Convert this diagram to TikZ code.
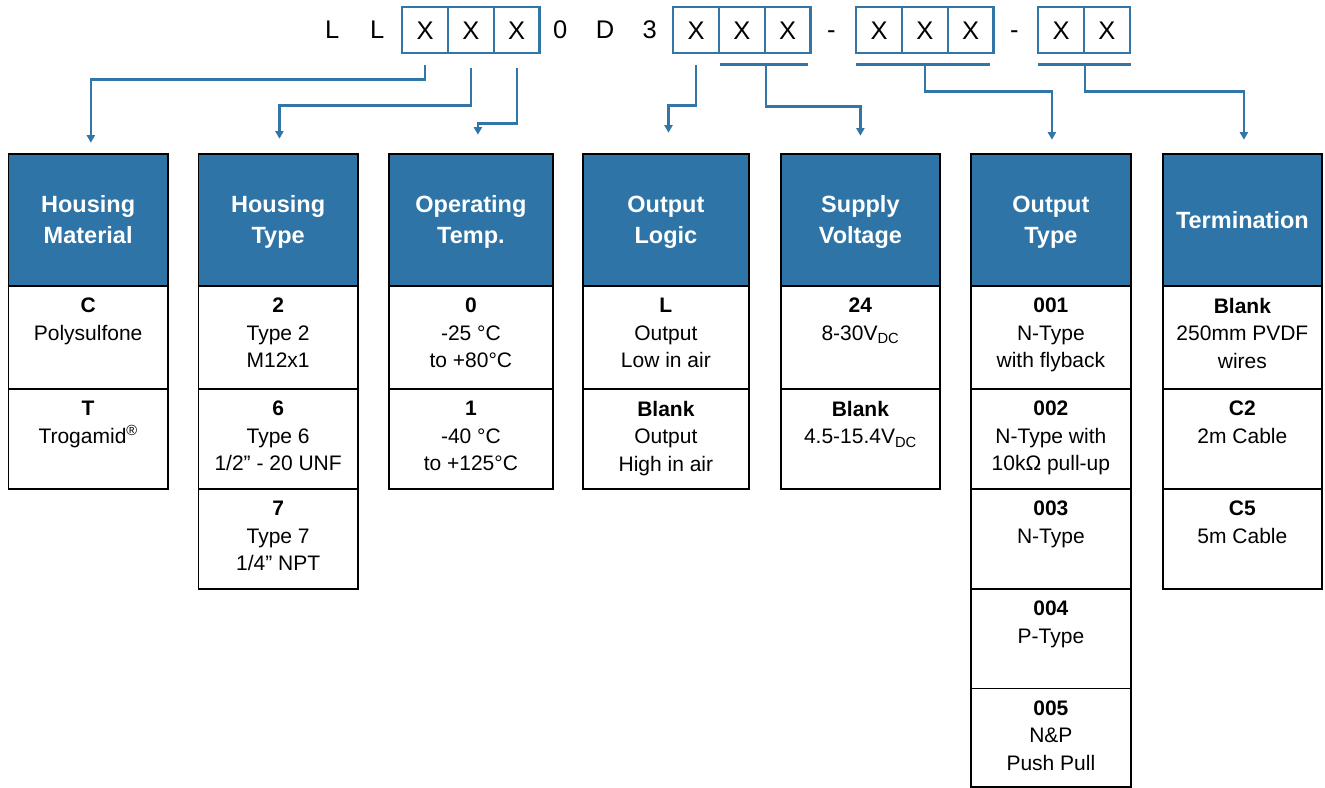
\documentclass[tikz,border=0pt]{standalone}
\usepackage{fontspec}
\setmainfont{Liberation Sans}
\usetikzlibrary{arrows.meta}
\definecolor{hblue}{RGB}{46,116,166}
\definecolor{lblue}{RGB}{50,118,168}
\tikzset{
  hdr/.style={draw=black, line width=1.8pt, fill=hblue, text=white,
    font=\bfseries\fontsize{23.5}{31}\selectfont, align=center, inner sep=0pt,
    anchor=north west, minimum height=132.3pt, text depth=0pt},
  cellbox/.style={draw=black, line width=1.8pt, fill=white, inner sep=0pt, anchor=north west},
  celltxt/.style={font=\fontsize{21}{27.5}\selectfont, align=center, inner sep=0pt,
    anchor=north, execute at begin node={\rule{0pt}{16pt}}},
  codebox/.style={draw=lblue, line width=2.4pt, minimum width=45.8pt, minimum height=46pt,
    inner sep=0pt, anchor=north west, font=\fontsize{25.5}{30}\selectfont,
    text height=18.3pt, text depth=0pt},
  codech/.style={font=\fontsize{25.5}{30}\selectfont, inner sep=0pt,
    text height=18.3pt, text depth=0pt},
  conn/.style={draw=lblue, line width=2.2pt, -{Triangle[width=8pt,length=7.5pt]}},
  bracketbar/.style={draw=lblue, line width=2.4pt},
}
\begin{document}
\begin{tikzpicture}[x=1pt,y=-1pt]
\useasboundingbox (0,0) rectangle (1325,787);

% ---------- code row ----------
\node[codech] (l1) at (332.3,29) {L};
\node[codech] (l2) at (377.2,29) {L};
\node[codebox] (x1) at (401,6) {X};
\node[codebox] (x2) at (446.8,6) {X};
\node[codebox] (x3) at (492.6,6) {X};
\node[codech] (d0) at (560.3,29) {0};
\node[codech] (dD) at (605.2,29) {D};
\node[codech] (d3) at (649.7,29) {3};
\node[codebox] (y1) at (672,6) {X};
\node[codebox] (y2) at (717.8,6) {X};
\node[codebox] (y3) at (763.6,6) {X};
\node[codech] (m1) at (831.4,29) {-};
\node[codebox] (z1) at (855,6) {X};
\node[codebox] (z2) at (900.8,6) {X};
\node[codebox] (z3) at (946.6,6) {X};
\node[codech] (m2) at (1014.3,29) {-};
\node[codebox] (w1) at (1037,6) {X};
\node[codebox] (w2) at (1082.8,6) {X};

% ---------- headers ----------
\node[hdr, minimum width=159.5pt] (h1) at (7.5,152.7) {Housing\\Material};
\node[hdr, minimum width=159.5pt] (h2) at (197.5,152.7) {Housing\\Type};
\node[hdr, minimum width=164pt] (h3) at (388,152.7) {Operating\\Temp.};
\node[hdr, minimum width=166pt] (h4) at (582,152.7) {Output\\Logic};
\node[hdr, minimum width=159pt] (h5) at (780,152.7) {Supply\\Voltage};
\node[hdr, minimum width=160pt] (h6) at (970,152.7) {Output\\Type};
\node[hdr, minimum width=159pt] (h7) at (1162,152.7) {Termination};

% ---------- column 1 ----------
\node[cellbox, minimum width=159.5pt, minimum height=103pt] (c1a) at (7.5,285) {};
\node[celltxt] (t1a) at ([yshift=-13pt]c1a.north) {\textbf{C}\\Polysulfone};
\node[cellbox, minimum width=159.5pt, minimum height=100pt] (c1b) at (7.5,388) {};
\node[celltxt] (t1b) at ([yshift=-13pt]c1b.north) {\textbf{T}\\Trogamid\textsuperscript{®}};

% ---------- column 2 ----------
\node[cellbox, minimum width=159.5pt, minimum height=103pt] (c2a) at (197.5,285) {};
\node[celltxt] (t2a) at ([yshift=-13pt]c2a.north) {\textbf{2}\\Type 2\\M12x1};
\node[cellbox, minimum width=159.5pt, minimum height=100pt] (c2b) at (197.5,388) {};
\node[celltxt] (t2b) at ([yshift=-13pt]c2b.north) {\textbf{6}\\Type 6\\1/2” - 20 UNF};
\node[cellbox, minimum width=159.5pt, minimum height=100pt] (c2c) at (197.5,488) {};
\node[celltxt] (t2c) at ([yshift=-13pt]c2c.north) {\textbf{7}\\Type 7\\1/4” NPT};

% ---------- column 3 ----------
\node[cellbox, minimum width=164pt, minimum height=103pt] (c3a) at (388,285) {};
\node[celltxt] (t3a) at ([yshift=-13pt]c3a.north) {\textbf{0}\\-25 °C\\to +80°C};
\node[cellbox, minimum width=164pt, minimum height=100pt] (c3b) at (388,388) {};
\node[celltxt] (t3b) at ([yshift=-13pt]c3b.north) {\textbf{1}\\-40 °C\\to +125°C};

% ---------- column 4 ----------
\node[cellbox, minimum width=166pt, minimum height=103pt] (c4a) at (582,285) {};
\node[celltxt] (t4a) at ([yshift=-13pt]c4a.north) {\textbf{L}\\Output\\Low in air};
\node[cellbox, minimum width=166pt, minimum height=100pt] (c4b) at (582,388) {};
\node[celltxt] (t4b) at ([yshift=-13pt]c4b.north) {\textbf{Blank}\\Output\\High in air};

% ---------- column 5 ----------
\node[cellbox, minimum width=159pt, minimum height=103pt] (c5a) at (780,285) {};
\node[celltxt] (t5a) at ([yshift=-13pt]c5a.north) {\textbf{24}\\8-30V\textsubscript{DC}};
\node[cellbox, minimum width=159pt, minimum height=100pt] (c5b) at (780,388) {};
\node[celltxt] (t5b) at ([yshift=-13pt]c5b.north) {\textbf{Blank}\\4.5-15.4V\textsubscript{DC}};

% ---------- column 6 ----------
\node[cellbox, minimum width=160pt, minimum height=103pt] (c6a) at (970,285) {};
\node[celltxt] (t6a) at ([yshift=-13pt]c6a.north) {\textbf{001}\\N-Type\\with flyback};
\node[cellbox, minimum width=160pt, minimum height=100pt] (c6b) at (970,388) {};
\node[celltxt] (t6b) at ([yshift=-13pt]c6b.north) {\textbf{002}\\N-Type with\\10kΩ pull-up};
\node[cellbox, minimum width=160pt, minimum height=100pt] (c6c) at (970,488) {};
\node[celltxt] (t6c) at ([yshift=-13pt]c6c.north) {\textbf{003}\\N-Type};
\node[cellbox, minimum width=160pt, minimum height=99.5pt] (c6d) at (970,588) {};
\node[celltxt] (t6d) at ([yshift=-13pt]c6d.north) {\textbf{004}\\P-Type};
\node[cellbox, minimum width=160pt, minimum height=98.5pt] (c6e) at (970,687.5) {};
\node[celltxt] (t6e) at ([yshift=-13pt]c6e.north) {\textbf{005}\\N\&P\\Push Pull};

% ---------- column 7 ----------
\node[cellbox, minimum width=159pt, minimum height=103pt] (c7a) at (1162,285) {};
\node[celltxt] (t7a) at ([yshift=-13pt]c7a.north) {\textbf{Blank}\\250mm PVDF\\wires};
\node[cellbox, minimum width=159pt, minimum height=100pt] (c7b) at (1162,388) {};
\node[celltxt] (t7b) at ([yshift=-13pt]c7b.north) {\textbf{C2}\\2m Cable};
\node[cellbox, minimum width=159pt, minimum height=100pt] (c7c) at (1162,488) {};
\node[celltxt] (t7c) at ([yshift=-13pt]c7c.north) {\textbf{C5}\\5m Cable};

% ---------- connectors ----------
\draw[conn, shorten >=10pt] ([yshift=-11pt]x1.south) -- ++(0,14) -| ([xshift=2.7pt]h1.north);
\draw[conn, shorten >=14pt] ([yshift=-14pt]x2.south) -- ++(0,37) -| ([xshift=1.3pt]h2.north);
\draw[conn, shorten >=18pt] ([yshift=-14pt]x3.south) -- ++(0,55) -| ([xshift=7pt]h3.north);
\draw[conn, shorten >=20pt] ([yshift=-11pt]y1.south) -- ++(0,40) -| ([xshift=2.6pt]h4.north);

\draw[bracketbar] ([xshift=2pt,yshift=-10pt]y2.south west) -- ([xshift=-4pt,yshift=-10pt]y3.south east);
\coordinate (b5) at ([yshift=-10pt]y2.south east);
\draw[conn, shorten >=17pt] (b5) -- ++(0,42) -| (h5.north);

\draw[bracketbar] ([xshift=1pt,yshift=-10pt]z1.south west) -- ([xshift=-5pt,yshift=-10pt]z3.south east);
\coordinate (b6) at ([yshift=-10pt]z2.south);
\draw[conn, shorten >=13pt] (b6) -- ++(0,27) -| ([xshift=1pt]h6.north);

\draw[bracketbar] ([xshift=1pt,yshift=-10pt]w1.south west) -- ([yshift=-10pt]w2.south east);
\coordinate (b7) at ([yshift=-10pt]w1.south east);
\draw[conn, shorten >=13pt] (b7) -- ++(0,27) -| ([xshift=1.5pt]h7.north);
\end{tikzpicture}
\end{document}
